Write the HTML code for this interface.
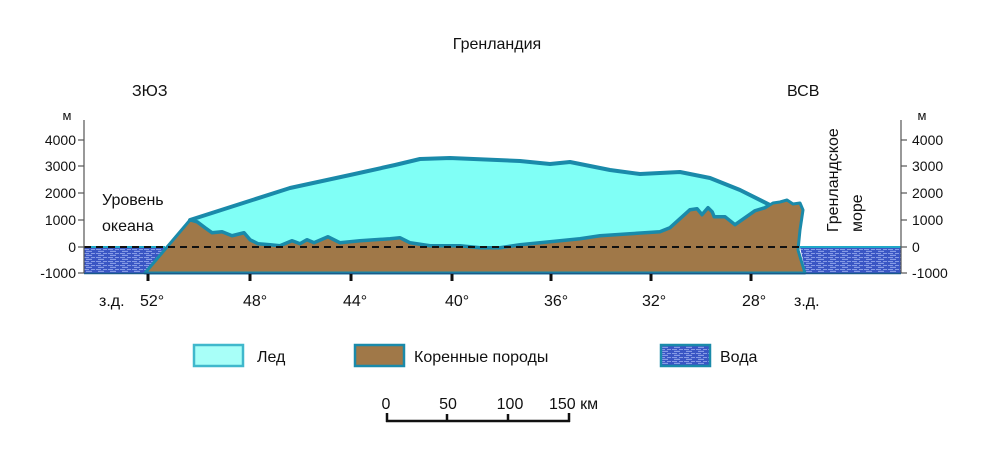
<!DOCTYPE html>
<html><head><meta charset="utf-8"><style>
body{margin:0;background:#fff;}
svg{display:block;font-family:"Liberation Sans","DejaVu Sans",sans-serif;}
</style></head><body>
<svg width="985" height="451" viewBox="0 0 985 451" xmlns="http://www.w3.org/2000/svg">
<defs>
<pattern id="w" width="12" height="4" patternUnits="userSpaceOnUse">
<rect width="12" height="4" fill="#3a56c4"/>
<path d="M0 1.5 h5 M7 1.5 h4 M2 3.3 h6" stroke="#9fb2f0" stroke-width="0.8"/>
</pattern>
</defs>
<g font-size="16" fill="#111">
<text x="497" y="49" text-anchor="middle">Гренландия</text>
<text x="132" y="96">ЗЮЗ</text>
<text x="787" y="96">ВСВ</text>
<text x="67" y="120" font-size="13" text-anchor="middle">м</text>
<text x="922" y="120" font-size="13" text-anchor="middle">м</text>
<text x="102" y="205">Уровень</text>
<text x="102" y="231">океана</text>
<text transform="translate(838,232) rotate(-90)">Гренландское</text>
<text transform="translate(862,232) rotate(-90)">море</text>
</g>
<!-- water -->
<polygon points="84,247 165,247 145,273 84,273" fill="url(#w)"/>
<polygon points="800,247 901,247 901,273 806,273" fill="url(#w)"/>
<line x1="84" y1="247" x2="165" y2="247" stroke="#20a8c8" stroke-width="2"/>
<line x1="800" y1="247" x2="901" y2="247" stroke="#20a8c8" stroke-width="2"/>
<!-- ice -->
<polygon points="190,220 290,188 350,175 395,165 420,159 450,158 520,161 550,164 570,162 610,170 640,174 680,172 710,178 740,190 770,205 765,208 755,211 745,218 735,225 725,217 714,217 712,212 708,208 702,215 697,209 690,210 670,228 660,232 630,234 600,236 580,239 560,241 540,243 520,245 500,248 480,248 460,246 430,246 410,243 400,238 390,239 360,241 340,243 328,237 314,243 307,240 300,244 292,241 280,246 270,245 258,244 250,240 244,233 232,236 222,232 212,233 205,228 197,222" fill="#80fff6" stroke="#1a8aaa" stroke-width="4" stroke-linejoin="round"/>
<!-- bedrock -->
<polygon points="145,273 190,220 197,222 205,228 212,233 222,232 232,236 244,233 250,240 258,244 270,245 280,246 292,241 300,244 307,240 314,243 328,237 340,243 360,241 390,239 400,238 410,243 430,246 460,246 480,248 500,248 520,245 540,243 560,241 580,239 600,236 630,234 660,232 670,228 690,210 697,209 702,215 708,208 712,212 714,217 725,217 735,225 745,218 755,211 765,208 773,203 780,202 787,200 793,204 800,203 803,210 800,230 798,250 805,273" fill="#a07848" stroke="#1a8aaa" stroke-width="3" stroke-linejoin="round"/>
<line x1="145" y1="273" x2="805" y2="273" stroke="#1a8aaa" stroke-width="2"/>
<line x1="84" y1="247" x2="801" y2="247" stroke="#111" stroke-width="2" stroke-dasharray="7,5"/>
<!-- axes -->
<g stroke="#555" stroke-width="1.2">
<line x1="84" y1="120" x2="84" y2="273"/>
<line x1="901" y1="120" x2="901" y2="273"/>
<line x1="78" y1="140" x2="84" y2="140"/><line x1="78" y1="166" x2="84" y2="166"/><line x1="78" y1="193" x2="84" y2="193"/><line x1="78" y1="220" x2="84" y2="220"/><line x1="78" y1="247" x2="84" y2="247"/><line x1="78" y1="273" x2="84" y2="273"/>
<line x1="901" y1="140" x2="907" y2="140"/><line x1="901" y1="166" x2="907" y2="166"/><line x1="901" y1="193" x2="907" y2="193"/><line x1="901" y1="220" x2="907" y2="220"/><line x1="901" y1="247" x2="907" y2="247"/><line x1="901" y1="273" x2="907" y2="273"/>
</g>
<line x1="84" y1="273.5" x2="901" y2="273.5" stroke="#1a5a8a" stroke-width="1.5"/>
<g font-size="14" fill="#111" text-anchor="end">
<text x="76" y="145">4000</text><text x="76" y="171">3000</text><text x="76" y="198">2000</text><text x="76" y="225">1000</text><text x="76" y="252">0</text><text x="76" y="278">-1000</text>
</g>
<g font-size="14" fill="#111">
<text x="912" y="145">4000</text><text x="912" y="171">3000</text><text x="912" y="198">2000</text><text x="912" y="225">1000</text><text x="912" y="252">0</text><text x="912" y="278">-1000</text>
</g>
<g stroke="#111" stroke-width="3">
<line x1="148" y1="274" x2="148" y2="281"/><line x1="250" y1="274" x2="250" y2="281"/><line x1="351" y1="274" x2="351" y2="281"/><line x1="452" y1="274" x2="452" y2="281"/><line x1="551" y1="274" x2="551" y2="281"/><line x1="651" y1="274" x2="651" y2="281"/><line x1="751" y1="274" x2="751" y2="281"/>
</g>
<g font-size="16" fill="#111">
<text x="99" y="306">з.д.</text><text x="794" y="306">з.д.</text>
<text x="140" y="306">52°</text><text x="243" y="306">48°</text><text x="343" y="306">44°</text><text x="445" y="306">40°</text><text x="544" y="306">36°</text><text x="642" y="306">32°</text><text x="742" y="306">28°</text>
</g>
<!-- legend -->
<rect x="194" y="345" width="49" height="21" fill="#a8fff8" stroke="#40b8cc" stroke-width="2.5"/>
<rect x="355" y="345" width="49" height="21" fill="#a07848" stroke="#1a8aaa" stroke-width="2.5"/>
<rect x="661" y="345" width="49" height="21" fill="url(#w)" stroke="#1a8aaa" stroke-width="2.5"/>
<g font-size="16" fill="#111">
<text x="257" y="362">Лед</text><text x="414" y="362">Коренные породы</text><text x="720" y="362">Вода</text>
<text x="386" y="409" text-anchor="middle">0</text><text x="448" y="409" text-anchor="middle">50</text><text x="510" y="409" text-anchor="middle">100</text><text x="549" y="409">150 км</text>
</g>
<g stroke="#111" stroke-width="2.5">
<line x1="386" y1="421" x2="570" y2="421"/>
<line x1="387" y1="413" x2="387" y2="422"/><line x1="447" y1="414" x2="447" y2="421"/><line x1="508" y1="414" x2="508" y2="421"/><line x1="569" y1="413" x2="569" y2="422"/>
</g>
</svg>
</body></html>
